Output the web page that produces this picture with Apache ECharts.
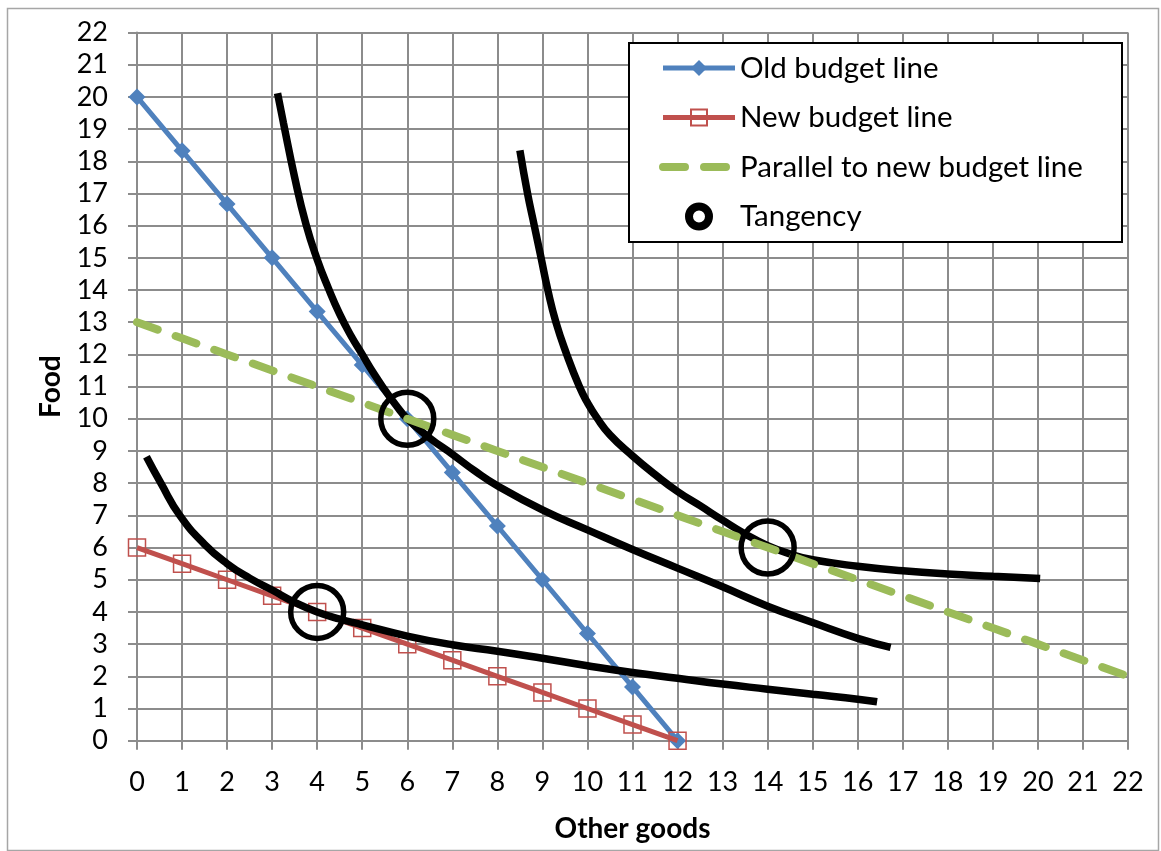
<!DOCTYPE html>
<html>
<head>
<meta charset="utf-8">
<script src="https://cdn.jsdelivr.net/npm/echarts@6/dist/echarts.min.js"></script>
<style>
html,body{margin:0;padding:0;background:#fff;}
#chart{width:1161px;height:851px;}
</style>
</head>
<body>
<div id="chart"></div>
<script>
// ---- data ----
var xTicks = [0,1,2,3,4,5,6,7,8,9,10,11,12,13,14,15,16,17,18,19,20,21,22];
var oldBudgetX = [0,1,2,3,4,5,6,7,8,9,10,11,12];
var oldBudgetY = [20,18.33,16.67,15,13.33,11.67,10,8.33,6.67,5,3.33,1.67,0];
var newBudgetX = [0,1,2,3,4,5,6,7,8,9,10,11,12];
var newBudgetY = [6,5.5,5,4.5,4,3.5,3,2.5,2,1.5,1,0.5,0];
var parallelX = [0,1,2,3,4,5,6,7,8,9,10,11,12,13,14,15,16,17,18,19,20,21,22];
var parallelY = [13,12.5,12,11.5,11,10.5,10,9.5,9,8.5,8,7.5,7,6.5,6,5.5,5,4.5,4,3.5,3,2.5,2];
var tangencyX = [4,6,14];
var tangencyY = [4,10,6];
var curve1X = [0.21,0.53,0.95,1.5,2,2.5,3,3.5,4,4.5,5,6,7,8,9,10,11,12,13,14,15,16,16.43];
var curve1Y = [8.82,8,7,6.1,5.5,5.05,4.68,4.3,4.0,3.78,3.6,3.25,2.98,2.78,2.56,2.33,2.12,1.94,1.76,1.6,1.44,1.29,1.21];
var curve2X = [3.12,3.25,3.5,3.75,4,4.25,4.5,4.75,5,5.25,5.5,5.75,6,6.5,7,7.5,8,9,10,11,12,13,14,15,16,16.73];
var curve2Y = [20.11,19.2,17.5,16.05,14.95,14.05,13.25,12.58,12.0,11.42,10.9,10.42,10.0,9.4,8.9,8.38,7.92,7.17,6.55,5.94,5.36,4.78,4.18,3.67,3.18,2.9];
var curve3X = [8.5,8.67,8.82,8.97,9.12,9.3,9.54,9.82,10,10.2,10.5,11,11.5,12,12.5,13,13.5,14,14.5,15,16,17,18,19,20.05];
var curve3Y = [18.34,17,16,15,14,13,12,11,10.5,10.05,9.5,8.85,8.27,7.74,7.3,6.85,6.42,6.06,5.8,5.62,5.42,5.28,5.18,5.11,5.04];
var legendNames = ['Old budget line','New budget line','Parallel to new budget line','Tangency'];

function pairs(xs, ys){ return xs.map(function(x,i){ return [x, ys[i]]; }); }

var FONT = 'Lato';
var gridColor = '#8c8c8c';

var chart = echarts.init(document.getElementById('chart'), null, {renderer:'canvas'});

function curve(name, xs, ys){
  return {
    name: name, type:'line', data: pairs(xs, ys), smooth: 0.5,
    showSymbol:false, symbol:'none',
    lineStyle:{color:'#000', width:7.5},
    z: 4, silent:true
  };
}

chart.setOption({
  animation:false,
  backgroundColor:'#fff',
  textStyle:{fontFamily:FONT},
  graphic:[{
    type:'rect', left:5, top:6, shape:{width:1151, height:842},
    style:{fill:'none', stroke:'#a6a6a6', lineWidth:1.5}, z:-1
  },{
    type:'rect', left:628, top:42, shape:{width:493, height:199},
    style:{fill:'#fff', stroke:'#000', lineWidth:2}, z:10
  }],
  grid:{left:137, right:33, top:32.5, bottom:110.3, containLabel:false, outerBoundsMode:'none'},
  legend:{
    data:[
      {name:legendNames[0]},
      {name:legendNames[1]},
      {name:legendNames[2], itemStyle:{opacity:0}},
      {name:legendNames[3], icon:'circle', itemStyle:{color:'#fff', borderColor:'#000', borderWidth:8, opacity:1}}
    ],
    orient:'vertical', left:659, top:53, padding:0,
    itemWidth:72, itemHeight:20, itemGap:19.5,
    lineStyle:{width:'inherit'},
    textStyle:{fontFamily:FONT, fontSize:29.5, color:'#000'},
    z:11
  },
  xAxis:{
    type:'value', min:0, max:22, interval:1,
    name:'Other goods', nameLocation:'middle', nameGap:74,
    nameTextStyle:{fontFamily:FONT, fontSize:28, fontWeight:'bold', color:'#000'},
    axisLine:{show:true, lineStyle:{color:gridColor, width:2}},
    axisTick:{show:true, length:9, lineStyle:{color:gridColor, width:2}},
    axisLabel:{fontFamily:FONT, fontSize:27, color:'#000', margin:28,
      formatter:function(v){ return xTicks.indexOf(v)>=0 ? String(v) : ''; }},
    splitLine:{show:true, lineStyle:{color:gridColor, width:2}}
  },
  yAxis:{
    type:'value', min:0, max:22, interval:1,
    name:'Food', nameLocation:'middle', nameGap:72, nameRotate:90,
    nameTextStyle:{fontFamily:FONT, fontSize:28, fontWeight:'bold', color:'#000'},
    axisLine:{show:true, lineStyle:{color:gridColor, width:2}},
    axisTick:{show:true, length:9, lineStyle:{color:gridColor, width:2}},
    axisLabel:{fontFamily:FONT, fontSize:27, color:'#000', margin:29},
    splitLine:{show:true, lineStyle:{color:gridColor, width:2}}
  },
  series:[
    {
      name:legendNames[0], type:'line', data:pairs(oldBudgetX, oldBudgetY),
      symbol:'diamond', symbolSize:17, showAllSymbol:true,
      lineStyle:{color:'#4F81BD', width:5},
      itemStyle:{color:'#4F81BD'}, z:2
    },
    {
      name:legendNames[1], type:'line', data:pairs(newBudgetX, newBudgetY),
      symbol:'rect', symbolSize:17, showAllSymbol:true,
      lineStyle:{color:'#C0504D', width:5},
      itemStyle:{color:'rgba(255,255,255,0)', borderColor:'#C0504D', borderWidth:1.5}, z:3
    },
    {
      name:legendNames[2], type:'line', data:pairs(parallelX, parallelY),
      symbol:'none', showSymbol:false,
      lineStyle:{color:'#9BBB59', width:8, type:[22,19], cap:'round'},
      itemStyle:{color:'#9BBB59'}, z:5
    },
    curve('IC1', curve1X, curve1Y),
    curve('IC2', curve2X, curve2Y),
    curve('IC3', curve3X, curve3Y),
    {
      name:legendNames[3], type:'scatter', data:pairs(tangencyX, tangencyY),
      symbol:'circle', symbolSize:53,
      itemStyle:{color:'rgba(255,255,255,0)', borderColor:'#000', borderWidth:5.5, opacity:1}, z:6
    }
  ]
});
</script>
</body>
</html>
